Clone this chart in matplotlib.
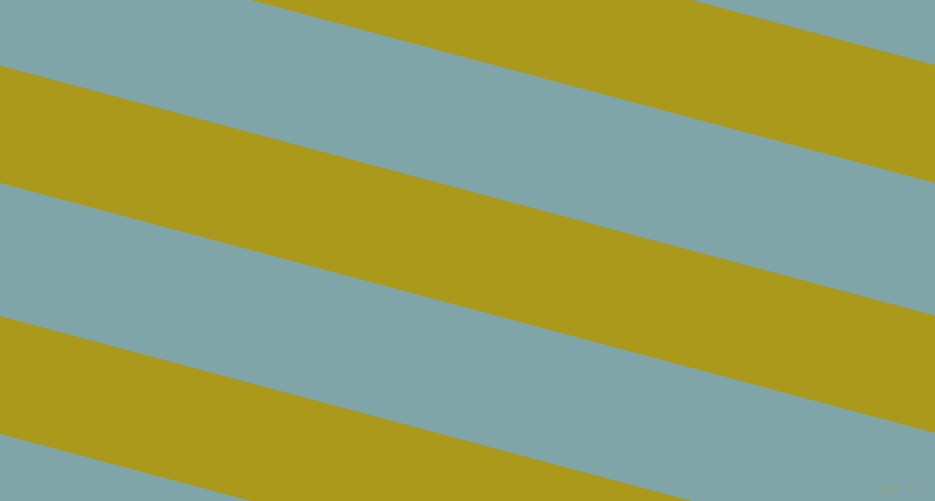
import matplotlib
matplotlib.use("Agg")
import matplotlib.pyplot as plt
import numpy as np

# Stripe boundaries: y-intercept at left edge (pixels from top) and common slope
boundary_offsets = [-435, -318, -185, -67, 65.5, 183, 316, 434, 567, 685]
slope = 0.2674
stripe_colors = ["#ab991b", "#7fa5a9"]  # olive, blue-grey
background = "#7fa5a9"
watermark = "pixlis.com"

W, H = 935, 501
fig = plt.figure(figsize=(W / 100, H / 100), dpi=100)
ax = fig.add_axes([0, 0, 1, 1])
ax.set_xlim(0, W)
ax.set_ylim(H, 0)
ax.axis("off")
ax.set_facecolor(background)
fig.patch.set_facecolor(background)

x = np.array([0, W])
for i in range(len(boundary_offsets) - 1):
    y0 = boundary_offsets[i] + slope * x
    y1 = boundary_offsets[i + 1] + slope * x
    ax.fill_between(x, y0, y1, color=stripe_colors[i % 2], linewidth=0)

ax.text(923, 490, watermark, fontsize=6, color="#9aa36a", ha="right", va="center", alpha=0.8)

fig.savefig("out.png", dpi=100, facecolor=background)
